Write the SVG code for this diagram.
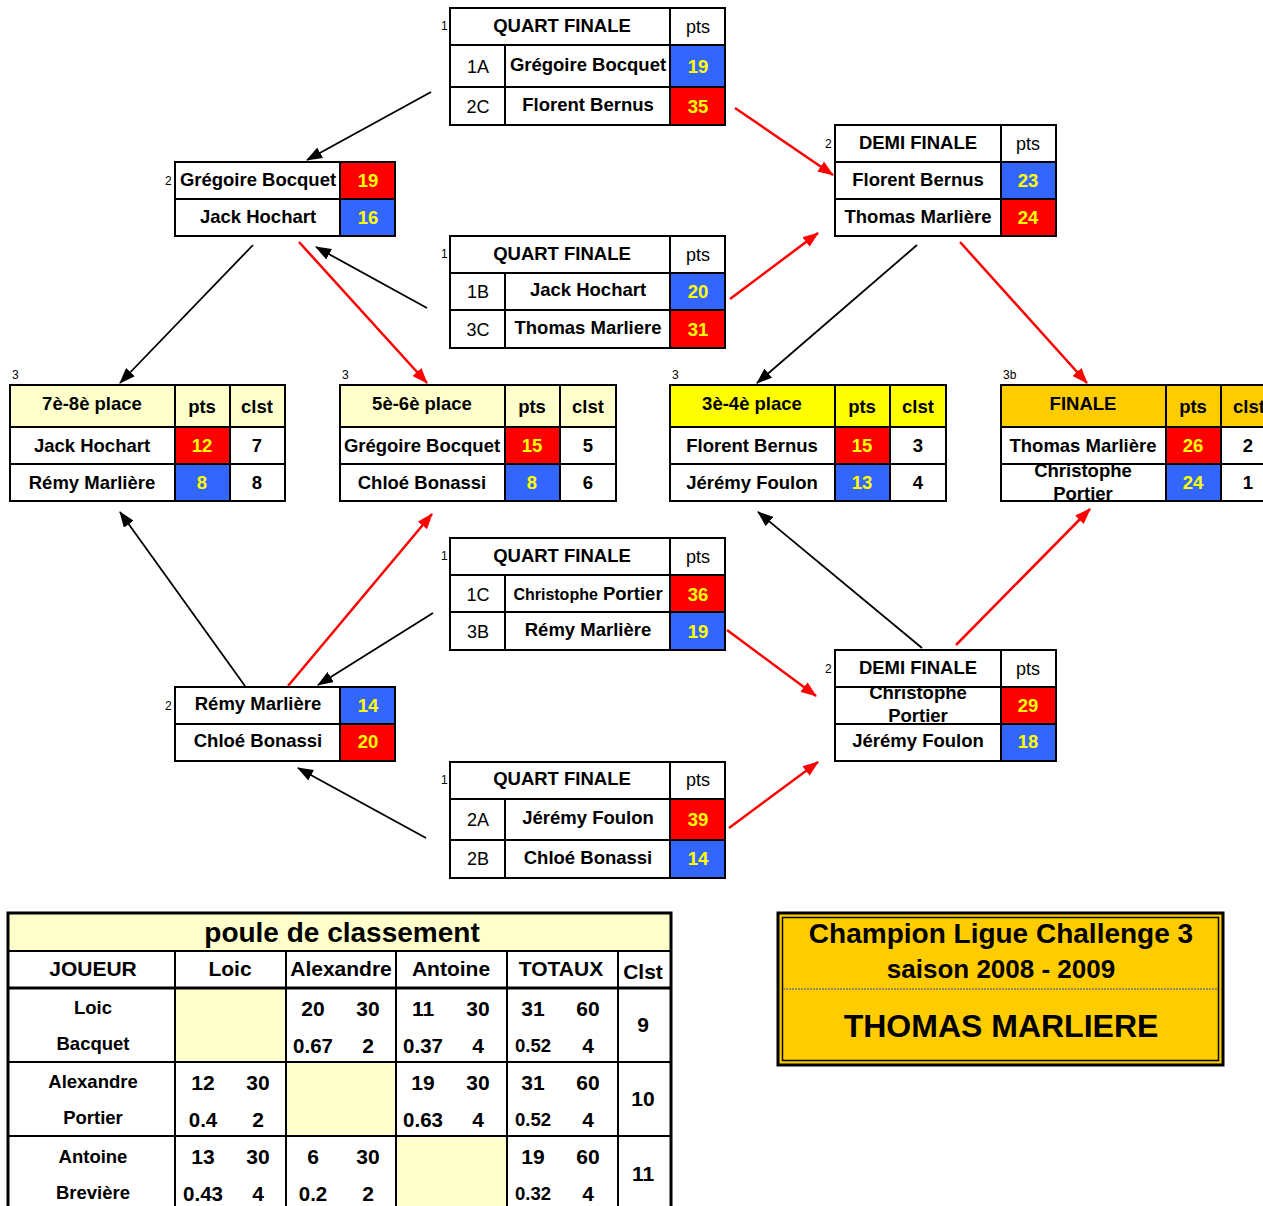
<svg xmlns="http://www.w3.org/2000/svg" width="1263" height="1206" viewBox="0 0 1263 1206">
<style>
text{font-family:"Liberation Sans",Arial,sans-serif;text-anchor:middle;fill:#000}
.b{font-weight:bold;font-size:18.5px}
.r{font-size:18px}
.n{font-weight:bold;font-size:18.5px;fill:#FFFF00}
.s{font-size:12px;text-anchor:start}
.g{fill:none;stroke:#000;stroke-width:2}
.red{fill:#FF0000}
.blue{fill:#3366FF}
.ly{fill:#FFFFCC}
.t1{font-weight:bold;font-size:21px}
.t2{font-weight:bold;font-size:18.5px}
.t3{font-weight:bold;font-size:20.5px}
.ca{stroke:#000;stroke-width:1.8;fill:none}
.cr{stroke:#FF0000;stroke-width:2.5;fill:none}
</style>
<defs>
<marker id="ab" markerUnits="userSpaceOnUse" markerWidth="16" markerHeight="12" refX="15" refY="6" orient="auto"><path d="M0,0 L16,6 L0,12 z" fill="#000"/></marker>
<marker id="ar" markerUnits="userSpaceOnUse" markerWidth="16" markerHeight="12" refX="15" refY="6" orient="auto"><path d="M0,0 L16,6 L0,12 z" fill="#FF0000"/></marker>
<clipPath id="clipF"><rect x="1002" y="465" width="163" height="35"/></clipPath>
<clipPath id="clipD"><rect x="836" y="688" width="164" height="35"/></clipPath>
</defs>

<g id="connectors">
<line class="ca" x1="431" y1="92" x2="307" y2="160" marker-end="url(#ab)"/>
<line class="cr" x1="735" y1="108" x2="833" y2="175" marker-end="url(#ar)"/>
<line class="ca" x1="427" y1="308" x2="316" y2="247" marker-end="url(#ab)"/>
<line class="cr" x1="730" y1="299" x2="818" y2="233" marker-end="url(#ar)"/>
<line class="ca" x1="253" y1="245" x2="120" y2="383" marker-end="url(#ab)"/>
<line class="cr" x1="299" y1="242" x2="427" y2="383" marker-end="url(#ar)"/>
<line class="ca" x1="917" y1="245" x2="757" y2="383" marker-end="url(#ab)"/>
<line class="cr" x1="960" y1="242" x2="1087" y2="383" marker-end="url(#ar)"/>
<line class="ca" x1="245" y1="686" x2="120" y2="512" marker-end="url(#ab)"/>
<line class="cr" x1="288" y1="686" x2="432" y2="514" marker-end="url(#ar)"/>
<line class="ca" x1="433" y1="613" x2="318" y2="685" marker-end="url(#ab)"/>
<line class="cr" x1="727" y1="630" x2="816" y2="696" marker-end="url(#ar)"/>
<line class="ca" x1="426" y1="838" x2="298" y2="768" marker-end="url(#ab)"/>
<line class="cr" x1="729" y1="828" x2="818" y2="762" marker-end="url(#ar)"/>
<line class="ca" x1="922" y1="648" x2="758" y2="512" marker-end="url(#ab)"/>
<line class="cr" x1="956" y1="645" x2="1090" y2="509" marker-end="url(#ar)"/>
</g>

<!-- Quart finale 1 -->
<g id="qf1">
<rect class="blue" x="670" y="45" width="55" height="42"/>
<rect class="red" x="670" y="87" width="55" height="38"/>
<rect class="g" x="450" y="8" width="275" height="117"/>
<path class="g" d="M450,45H725M450,87H725M670,8V125M505,45V125"/>
<text class="s" x="441" y="30">1</text>
<text class="b" x="562" y="32">QUART FINALE</text>
<text class="r" x="698" y="33">pts</text>
<text class="r" x="478" y="73">1A</text>
<text class="b" x="588" y="71">Grégoire Bocquet</text>
<text class="n" x="698" y="73">19</text>
<text class="r" x="478" y="113">2C</text>
<text class="b" x="588" y="111">Florent Bernus</text>
<text class="n" x="698" y="113">35</text>
</g>

<!-- Quart finale 2 -->
<g id="qf2">
<rect class="blue" x="670" y="273" width="55" height="37"/>
<rect class="red" x="670" y="310" width="55" height="38"/>
<rect class="g" x="450" y="236" width="275" height="112"/>
<path class="g" d="M450,273H725M450,310H725M670,236V348M505,273V348"/>
<text class="s" x="441" y="258">1</text>
<text class="b" x="562" y="260">QUART FINALE</text>
<text class="r" x="698" y="261">pts</text>
<text class="r" x="478" y="298">1B</text>
<text class="b" x="588" y="296">Jack Hochart</text>
<text class="n" x="698" y="298">20</text>
<text class="r" x="478" y="336">3C</text>
<text class="b" x="588" y="334">Thomas Marliere</text>
<text class="n" x="698" y="336">31</text>
</g>

<!-- Quart finale 3 -->
<g id="qf3">
<rect class="red" x="670" y="575" width="55" height="37"/>
<rect class="blue" x="670" y="612" width="55" height="38"/>
<rect class="g" x="450" y="538" width="275" height="112"/>
<path class="g" d="M450,575H725M450,612H725M670,538V650M505,575V650"/>
<text class="s" x="441" y="560">1</text>
<text class="b" x="562" y="562">QUART FINALE</text>
<text class="r" x="698" y="563">pts</text>
<text class="r" x="478" y="601">1C</text>
<text class="b" x="588" y="600"><tspan style="font-size:16px">Christophe</tspan> Portier</text>
<text class="n" x="698" y="601">36</text>
<text class="r" x="478" y="638">3B</text>
<text class="b" x="588" y="636">Rémy Marlière</text>
<text class="n" x="698" y="638">19</text>
</g>

<!-- Quart finale 4 -->
<g id="qf4">
<rect class="red" x="670" y="799" width="55" height="41"/>
<rect class="blue" x="670" y="840" width="55" height="38"/>
<rect class="g" x="450" y="762" width="275" height="116"/>
<path class="g" d="M450,799H725M450,840H725M670,762V878M505,799V878"/>
<text class="s" x="441" y="784">1</text>
<text class="b" x="562" y="785">QUART FINALE</text>
<text class="r" x="698" y="786">pts</text>
<text class="r" x="478" y="826">2A</text>
<text class="b" x="588" y="824">Jérémy Foulon</text>
<text class="n" x="698" y="826">39</text>
<text class="r" x="478" y="865">2B</text>
<text class="b" x="588" y="864">Chloé Bonassi</text>
<text class="n" x="698" y="865">14</text>
</g>

<!-- Box Grégoire / Jack -->
<g id="sf-left-top">
<rect class="red" x="340" y="162" width="55" height="37"/>
<rect class="blue" x="340" y="199" width="55" height="37"/>
<rect class="g" x="175" y="162" width="220" height="74"/>
<path class="g" d="M175,199H395M340,162V236"/>
<text class="s" x="165" y="185">2</text>
<text class="b" x="258" y="186">Grégoire Bocquet</text>
<text class="n" x="368" y="187">19</text>
<text class="b" x="258" y="223">Jack Hochart</text>
<text class="n" x="368" y="224">16</text>
</g>

<!-- Box Rémy / Chloé -->
<g id="sf-left-bottom">
<rect class="blue" x="340" y="687" width="55" height="37"/>
<rect class="red" x="340" y="724" width="55" height="37"/>
<rect class="g" x="175" y="687" width="220" height="74"/>
<path class="g" d="M175,724H395M340,687V761"/>
<text class="s" x="165" y="710">2</text>
<text class="b" x="258" y="710">Rémy Marlière</text>
<text class="n" x="368" y="712">14</text>
<text class="b" x="258" y="747">Chloé Bonassi</text>
<text class="n" x="368" y="748">20</text>
</g>

<!-- Demi finale top -->
<g id="df1">
<rect class="blue" x="1001" y="162" width="55" height="37"/>
<rect class="red" x="1001" y="199" width="55" height="37"/>
<rect class="g" x="835" y="125" width="221" height="111"/>
<path class="g" d="M835,162H1056M835,199H1056M1001,125V236"/>
<text class="s" x="825" y="148">2</text>
<text class="b" x="918" y="149">DEMI FINALE</text>
<text class="r" x="1028" y="150">pts</text>
<text class="b" x="918" y="186">Florent Bernus</text>
<text class="n" x="1028" y="187">23</text>
<text class="b" x="918" y="223">Thomas Marlière</text>
<text class="n" x="1028" y="224">24</text>
</g>

<!-- Demi finale bottom -->
<g id="df2">
<rect class="red" x="1001" y="687" width="55" height="37"/>
<rect class="blue" x="1001" y="724" width="55" height="37"/>
<g clip-path="url(#clipD)">
<text class="b" x="918" y="699">Christophe</text>
<text class="b" x="918" y="722">Portier</text>
</g>
<rect class="g" x="835" y="650" width="221" height="111"/>
<path class="g" d="M835,687H1056M835,724H1056M1001,650V761"/>
<text class="s" x="825" y="673">2</text>
<text class="b" x="918" y="674">DEMI FINALE</text>
<text class="r" x="1028" y="675">pts</text>
<text class="n" x="1028" y="712">29</text>
<text class="b" x="918" y="747">Jérémy Foulon</text>
<text class="n" x="1028" y="748">18</text>
</g>

<!-- 7e-8e -->
<g id="p78">
<rect class="ly" x="10" y="385" width="275" height="42"/>
<rect class="red" x="175" y="427" width="55" height="37"/>
<rect class="blue" x="175" y="464" width="55" height="37"/>
<rect class="g" x="10" y="385" width="275" height="116"/>
<path class="g" d="M10,427H285M10,464H285M175,385V501M230,385V501"/>
<text class="s" x="12" y="379">3</text>
<text class="b" x="92" y="410">7è-8è place</text>
<text class="b" x="202" y="413">pts</text>
<text class="b" x="257" y="413">clst</text>
<text class="b" x="92" y="452">Jack Hochart</text>
<text class="n" x="202" y="452">12</text>
<text class="b" x="257" y="452">7</text>
<text class="b" x="92" y="489">Rémy Marlière</text>
<text class="n" x="202" y="489">8</text>
<text class="b" x="257" y="489">8</text>
</g>

<!-- 5e-6e -->
<g id="p56">
<rect class="ly" x="340" y="385" width="276" height="42"/>
<rect class="red" x="505" y="427" width="55" height="37"/>
<rect class="blue" x="505" y="464" width="55" height="37"/>
<rect class="g" x="340" y="385" width="276" height="116"/>
<path class="g" d="M340,427H616M340,464H616M505,385V501M560,385V501"/>
<text class="s" x="342" y="379">3</text>
<text class="b" x="422" y="410">5è-6è place</text>
<text class="b" x="532" y="413">pts</text>
<text class="b" x="588" y="413">clst</text>
<text class="b" x="422" y="452">Grégoire Bocquet</text>
<text class="n" x="532" y="452">15</text>
<text class="b" x="588" y="452">5</text>
<text class="b" x="422" y="489">Chloé Bonassi</text>
<text class="n" x="532" y="489">8</text>
<text class="b" x="588" y="489">6</text>
</g>

<!-- 3e-4e -->
<g id="p34">
<rect fill="#FFFF00" x="670" y="385" width="276" height="42"/>
<rect class="red" x="835" y="427" width="55" height="37"/>
<rect class="blue" x="835" y="464" width="55" height="37"/>
<rect class="g" x="670" y="385" width="276" height="116"/>
<path class="g" d="M670,427H946M670,464H946M835,385V501M890,385V501"/>
<text class="s" x="672" y="379">3</text>
<text class="b" x="752" y="410">3è-4è place</text>
<text class="b" x="862" y="413">pts</text>
<text class="b" x="918" y="413">clst</text>
<text class="b" x="752" y="452">Florent Bernus</text>
<text class="n" x="862" y="452">15</text>
<text class="b" x="918" y="452">3</text>
<text class="b" x="752" y="489">Jérémy Foulon</text>
<text class="n" x="862" y="489">13</text>
<text class="b" x="918" y="489">4</text>
</g>

<!-- Finale -->
<g id="finale">
<rect fill="#FFCC00" x="1001" y="385" width="275" height="42"/>
<rect class="red" x="1166" y="427" width="55" height="37"/>
<rect class="blue" x="1166" y="464" width="55" height="37"/>
<g clip-path="url(#clipF)">
<text class="b" x="1083" y="477">Christophe</text>
<text class="b" x="1083" y="500">Portier</text>
</g>
<rect class="g" x="1001" y="385" width="275" height="116"/>
<path class="g" d="M1001,427H1276M1001,464H1276M1166,385V501M1221,385V501"/>
<text class="s" x="1003" y="379">3b</text>
<text class="b" x="1083" y="410">FINALE</text>
<text class="b" x="1193" y="413">pts</text>
<text class="b" x="1249" y="413">clst</text>
<text class="b" x="1083" y="452">Thomas Marlière</text>
<text class="n" x="1193" y="452">26</text>
<text class="b" x="1248" y="452">2</text>
<text class="n" x="1193" y="489">24</text>
<text class="b" x="1248" y="489">1</text>
</g>

<!-- Poule de classement -->
<g id="poule">
<rect class="ly" x="8" y="913" width="663" height="38"/>
<rect class="ly" x="175" y="988" width="111" height="74"/>
<rect class="ly" x="286" y="1062" width="110" height="74"/>
<rect class="ly" x="396" y="1136" width="111" height="74"/>
<rect x="8" y="913" width="663" height="300" fill="none" stroke="#000" stroke-width="3"/>
<path fill="none" stroke="#000" stroke-width="2" d="M8,951H671M8,1062H671M8,1136H671M175,951V1206M286,951V1206M396,951V1206M507,951V1206M618,951V1206"/>
<path fill="none" stroke="#000" stroke-width="3" d="M8,988H671"/>
<text style="font-weight:bold;font-size:28px" x="342" y="942">poule de classement</text>
<text class="t1" x="93" y="976">JOUEUR</text>
<text class="t1" x="230" y="976">Loic</text>
<text class="t1" x="341" y="976">Alexandre</text>
<text class="t1" x="451" y="976">Antoine</text>
<text class="t1" x="561" y="976">TOTAUX</text>
<text class="t1" x="643" y="979">Clst</text>

<text class="t2" x="93" y="1014">Loic</text>
<text class="t2" x="93" y="1050">Bacquet</text>
<text class="t1" x="313" y="1016">20</text><text class="t1" x="368" y="1016">30</text>
<text class="t3" x="313" y="1053">0.67</text><text class="t1" x="368" y="1053">2</text>
<text class="t1" x="423" y="1016">11</text><text class="t1" x="478" y="1016">30</text>
<text class="t3" x="423" y="1053">0.37</text><text class="t1" x="478" y="1053">4</text>
<text class="t1" x="533" y="1016">31</text><text class="t1" x="588" y="1016">60</text>
<text class="t2" x="533" y="1052">0.52</text><text class="t1" x="588" y="1053">4</text>
<text class="t1" x="643" y="1032">9</text>

<text class="t2" x="93" y="1088">Alexandre</text>
<text class="t2" x="93" y="1124">Portier</text>
<text class="t1" x="203" y="1090">12</text><text class="t1" x="258" y="1090">30</text>
<text class="t3" x="203" y="1127">0.4</text><text class="t1" x="258" y="1127">2</text>
<text class="t1" x="423" y="1090">19</text><text class="t1" x="478" y="1090">30</text>
<text class="t3" x="423" y="1127">0.63</text><text class="t1" x="478" y="1127">4</text>
<text class="t1" x="533" y="1090">31</text><text class="t1" x="588" y="1090">60</text>
<text class="t2" x="533" y="1126">0.52</text><text class="t1" x="588" y="1127">4</text>
<text class="t1" x="643" y="1106">10</text>

<text class="t2" x="93" y="1163">Antoine</text>
<text class="t2" x="93" y="1199">Brevière</text>
<text class="t1" x="203" y="1164">13</text><text class="t1" x="258" y="1164">30</text>
<text class="t3" x="203" y="1201">0.43</text><text class="t1" x="258" y="1201">4</text>
<text class="t1" x="313" y="1164">6</text><text class="t1" x="368" y="1164">30</text>
<text class="t3" x="313" y="1201">0.2</text><text class="t1" x="368" y="1201">2</text>
<text class="t1" x="533" y="1164">19</text><text class="t1" x="588" y="1164">60</text>
<text class="t2" x="533" y="1200">0.32</text><text class="t1" x="588" y="1201">4</text>
<text class="t1" x="643" y="1181">11</text>
</g>

<!-- Champion -->
<g id="champion">
<rect x="778" y="913" width="445" height="152" fill="#FFCC00" stroke="#000" stroke-width="3"/>
<rect x="782.5" y="917.5" width="436" height="143" fill="none" stroke="#000" stroke-width="1.5"/>
<line x1="783" y1="989" x2="1218" y2="989" stroke="#777" stroke-width="1.5" stroke-dasharray="2,1"/>
<text style="font-weight:bold;font-size:28px" x="1001" y="943">Champion Ligue Challenge 3</text>
<text style="font-weight:bold;font-size:26px" x="1001" y="978">saison 2008 - 2009</text>
<text style="font-weight:bold;font-size:32px" x="1001" y="1037">THOMAS MARLIERE</text>
</g>
</svg>
